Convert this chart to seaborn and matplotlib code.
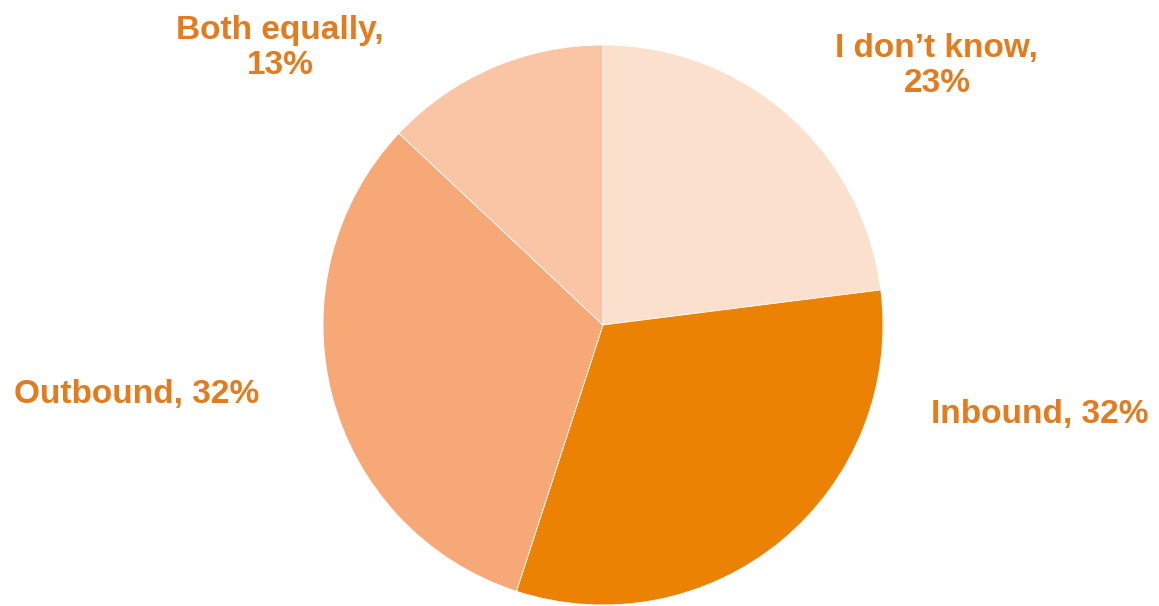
import matplotlib
matplotlib.use('Agg')
import matplotlib.pyplot as plt
import seaborn as sns

# Data
categories = ["I don\u2019t know", "Inbound", "Outbound", "Both equally"]
shares = [23, 32, 32, 13]
slice_colors = ['#FCE0CE', '#EB8204', '#F6A877', '#F9C5A5']
text_color = '#E47B1E'

sns.set_theme(style='white')
plt.rcParams['font.family'] = ['Liberation Sans', 'DejaVu Sans']

W, H = 1159, 606
cx, cy, r = 603, 325, 280  # pie centre / radius in pixels (from top-left)

fig = plt.figure(figsize=(W / 100, H / 100), dpi=100)
ax = fig.add_axes([0, 0, 1, 1])
ax.pie(shares, colors=slice_colors, startangle=90, counterclock=False,
       radius=1, wedgeprops=dict(edgecolor='white', linewidth=0.6))
ax.set_aspect('auto')
ax.set_xlim(-cx / r, (W - cx) / r)
ax.set_ylim(-(H - cy) / r, cy / r)
ax.axis('off')

# label placement in pixel coordinates (x centre, y centre from top)
label_pos = {
    "I don\u2019t know": (937, 66, True),
    "Inbound": (1040, 414, False),
    "Outbound": (137, 395, False),
    "Both equally": (280, 48, True),
}
for cat, val in zip(categories, shares):
    px, py, two_line = label_pos[cat]
    sep = ',\n' if two_line else ', '
    fig.text(px / W, 1 - py / H, f'{cat}{sep}{val}%', ha='center', va='center',
             fontsize=24, fontweight='bold', color=text_color, linespacing=1.2)

fig.savefig('out.png', dpi=100)
